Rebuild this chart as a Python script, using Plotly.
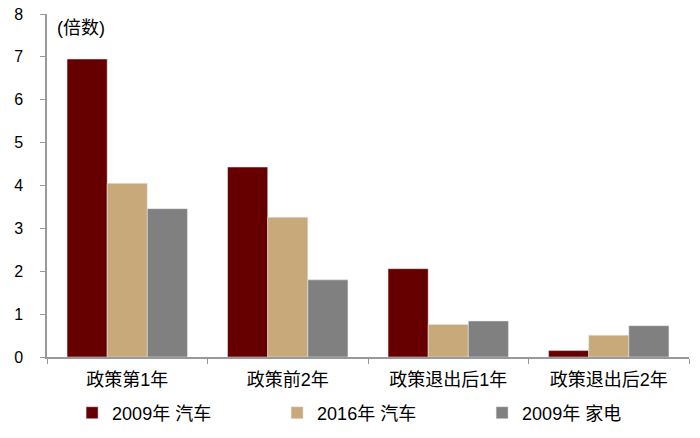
import plotly.graph_objects as go

categories = ["政策第1年", "政策前2年", "政策退出后1年", "政策退出后2年"]
car_2009 = [6.95, 4.43, 2.06, 0.15]
car_2016 = [4.05, 3.26, 0.76, 0.51]
appliance_2009 = [3.46, 1.80, 0.84, 0.73]

FONT = "Arial, Liberation Sans, Noto Sans CJK SC, sans-serif"

fig = go.Figure()
fig.add_trace(go.Bar(x=categories, y=car_2009, name="2009年 汽车", marker_color="#660000"))
fig.add_trace(go.Bar(x=categories, y=car_2016, name="2016年 汽车", marker_color="#C8A97A"))
fig.add_trace(go.Bar(x=categories, y=appliance_2009, name="2009年 家电", marker_color="#808080"))

fig.update_layout(
    width=700, height=438,
    margin=dict(l=47, r=11, t=14, b=81, autoexpand=False),
    plot_bgcolor="white", paper_bgcolor="white",
    font=dict(family=FONT, size=18, color="black"),
    barmode="group", bargap=0.25, bargroupgap=0,
    showlegend=True,
    legend=dict(orientation="h", xref="container", yref="container",
                x=0.103, xanchor="left", y=0.057, yanchor="middle",
                font=dict(size=18), itemwidth=30, traceorder="normal",
                entrywidth=160, entrywidthmode="pixels"),
)
fig.update_xaxes(showline=True, linecolor="#999999", linewidth=1.5,
                 ticks="outside", tickson="boundaries", ticklen=5, tickcolor="#999999",
                 tickfont=dict(size=18), ticklabelstandoff=6)
fig.update_yaxes(range=[0, 8], dtick=1, showgrid=False, zeroline=False,
                 showline=True, linecolor="#999999", linewidth=1.5,
                 ticks="outside", ticklen=5, tickcolor="#999999",
                 tickfont=dict(size=16), ticklabelstandoff=14,
                 ticklabeloverflow="allow")

fig.add_annotation(text="(倍数)", xref="paper", yref="paper", x=0.013, y=0.96,
                   xanchor="left", yanchor="middle", showarrow=False,
                   font=dict(size=18))

# drop the default 8px page margin so the figure sits at the window corner
fig.write_html("out.html", config={"displayModeBar": False},
               post_script="document.body.style.margin='0';")
